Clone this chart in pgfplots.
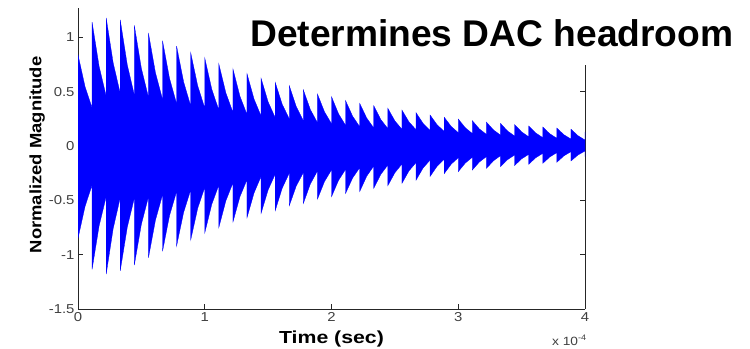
\documentclass[border=0pt]{standalone}
\usepackage{pgfplots}
\pgfplotsset{compat=1.18}
\usepackage{pgfplotstable}
\usepackage{fontspec}
\setmainfont{Liberation Sans}
\newcommand{\tl}[1]{\scalebox{1.15}[1]{#1}}

% envelope of the signal: upper edge forward in time, then lower edge backward
% (time in units of 1e-4 s)
\pgfplotstableread{
t y
0.0000 0.84
0.0556 0.546
0.1111 0.35
0.1111 1.14
0.1667 0.732
0.2222 0.46
0.2222 1.18
0.2778 0.763
0.3333 0.485
0.3333 1.16
0.3889 0.746
0.4444 0.47
0.4444 1.11
0.5000 0.714
0.5556 0.45
0.5556 1.04
0.6111 0.674
0.6667 0.43
0.6667 0.97
0.7222 0.622
0.7778 0.39
0.7778 0.92
0.8333 0.59
0.8889 0.37
0.8889 0.86
0.9444 0.554
1.0000 0.35
1.0000 0.81
1.0556 0.522
1.1111 0.33
1.1111 0.755
1.1667 0.488
1.2222 0.31
1.2222 0.71
1.2778 0.458
1.3333 0.29
1.3333 0.665
1.3889 0.432
1.4444 0.276
1.4444 0.623
1.5000 0.406
1.5556 0.262
1.5556 0.586
1.6111 0.384
1.6667 0.25
1.6667 0.555
1.7222 0.362
1.7778 0.233
1.7778 0.516
1.8333 0.335
1.8889 0.215
1.8889 0.479
1.9444 0.315
2.0000 0.205
2.0000 0.454
2.0556 0.296
2.1111 0.19
2.1111 0.417
2.1667 0.274
2.2222 0.178
2.2222 0.393
2.2778 0.257
2.3333 0.166
2.3333 0.371
2.3889 0.244
2.4444 0.16
2.4444 0.347
2.5000 0.231
2.5556 0.154
2.5556 0.331
2.6111 0.222
2.6667 0.15
2.6667 0.307
2.7222 0.209
2.7778 0.144
2.7778 0.285
2.8333 0.195
2.8889 0.135
2.8889 0.265
2.9444 0.18
3.0000 0.123
3.0000 0.248
3.0556 0.168
3.1111 0.115
3.1111 0.233
3.1667 0.157
3.2222 0.107
3.2222 0.22
3.2778 0.148
3.3333 0.1
3.3333 0.208
3.3889 0.138
3.4444 0.092
3.4444 0.197
3.5000 0.13
3.5556 0.085
3.5556 0.185
3.6111 0.12
3.6667 0.077
3.6667 0.175
3.7222 0.113
3.7778 0.071
3.7778 0.165
3.8333 0.104
3.8889 0.064
3.8889 0.155
3.9444 0.095
4.0000 0.055
4.0000 0.13
4.0000 -0.098
4.0000 -0.046
3.9444 -0.083
3.8889 -0.138
3.8889 -0.052
3.8333 -0.091
3.7778 -0.15
3.7778 -0.061
3.7222 -0.101
3.6667 -0.16
3.6667 -0.068
3.6111 -0.108
3.5556 -0.169
3.5556 -0.077
3.5000 -0.118
3.4444 -0.18
3.4444 -0.083
3.3889 -0.126
3.3333 -0.19
3.3333 -0.089
3.2778 -0.136
3.2222 -0.206
3.2222 -0.098
3.1667 -0.147
3.1111 -0.221
3.1111 -0.104
3.0556 -0.157
3.0000 -0.236
3.0000 -0.108
2.9444 -0.167
2.8889 -0.255
2.8889 -0.123
2.8333 -0.186
2.7778 -0.28
2.7778 -0.129
2.7222 -0.203
2.6667 -0.315
2.6667 -0.153
2.6111 -0.229
2.5556 -0.344
2.5556 -0.166
2.5000 -0.246
2.4444 -0.365
2.4444 -0.175
2.3889 -0.261
2.3333 -0.39
2.3333 -0.184
2.2778 -0.278
2.2222 -0.42
2.2222 -0.2
2.1667 -0.294
2.1111 -0.436
2.1111 -0.215
2.0556 -0.316
2.0000 -0.467
2.0000 -0.22
1.9444 -0.328
1.8889 -0.49
1.8889 -0.23
1.8333 -0.349
1.7778 -0.528
1.7778 -0.245
1.7222 -0.367
1.6667 -0.55
1.6667 -0.25
1.6111 -0.388
1.5556 -0.596
1.5556 -0.26
1.5000 -0.404
1.4444 -0.62
1.4444 -0.28
1.3889 -0.432
1.3333 -0.66
1.3333 -0.31
1.2778 -0.466
1.2222 -0.70
1.2222 -0.34
1.1667 -0.504
1.1111 -0.75
1.1111 -0.36
1.0556 -0.536
1.0000 -0.80
1.0000 -0.38
0.9444 -0.574
0.8889 -0.866
0.8889 -0.405
0.8333 -0.611
0.7778 -0.92
0.7778 -0.42
0.7222 -0.64
0.6667 -0.97
0.6667 -0.45
0.6111 -0.682
0.5556 -1.03
0.5556 -0.47
0.5000 -0.72
0.4444 -1.096
0.4444 -0.48
0.3889 -0.747
0.3333 -1.148
0.3333 -0.476
0.2778 -0.758
0.2222 -1.18
0.2222 -0.467
0.1667 -0.734
0.1111 -1.135
0.1111 -0.36
0.0556 -0.556
0.0000 -0.85
}\envelope

\begin{document}
\begin{tikzpicture}
\begin{axis}[
  at={(78bp,40bp)}, anchor=south west,
  scale only axis, width=507bp, height=301bp,
  xmin=0, xmax=4, ymin=-1.5, ymax=1.27,
  axis x line=bottom, axis y line=box,
  axis line style={-, black!85, line width=0.6pt},
  tick align=inside,
  major tick length=5bp,
  tick style={black!85, line width=0.6pt},
  xtick={0,1,2,3,4}, xticklabels={\tl{0},\tl{1},\tl{2},\tl{3},\tl{4}},
  ytick={-1.5,-1,-0.5,0,0.5,1}, yticklabels={\tl{-1.5},\tl{-1},\tl{-0.5},\tl{0},\tl{0.5},\tl{1}},
  ticklabel style={font=\fontsize{13}{13}\selectfont, text=black!75},
  xlabel={\scalebox{1.22}[1]{\bfseries Time (sec)}},
  every axis x label/.style={at={(axis description cs:0.5,0)}, anchor=base, yshift=-34.5bp, font=\fontsize{17.5}{17.5}\selectfont},
  ylabel={\scalebox{1.12}[1]{\bfseries Normalized Magnitude}},
  every axis y label/.style={at={(axis description cs:-0.072,0.512)}, rotate=90, anchor=base, font=\fontsize{16.5}{16.5}\selectfont},
]
\addplot[fill=blue, draw=blue, line width=0.3pt] table[x=t, y=y]{\envelope} -- cycle;
\end{axis}
\node[anchor=base east, font=\fontsize{12}{12}\selectfont, text=black!75, inner sep=0pt] at (587bp,4bp) {\tl{x 10\textsuperscript{-4}}};
\fill[white] (240bp,284bp) rectangle (750bp,349bp);
\node[anchor=base west, font=\fontsize{37.3}{37.3}\selectfont\bfseries, inner sep=0pt] at (250bp,302bp) {Determines DAC headroom};
\pgfresetboundingbox
\path[use as bounding box] (0,0) rectangle (750bp,349bp);
\end{tikzpicture}
\end{document}
